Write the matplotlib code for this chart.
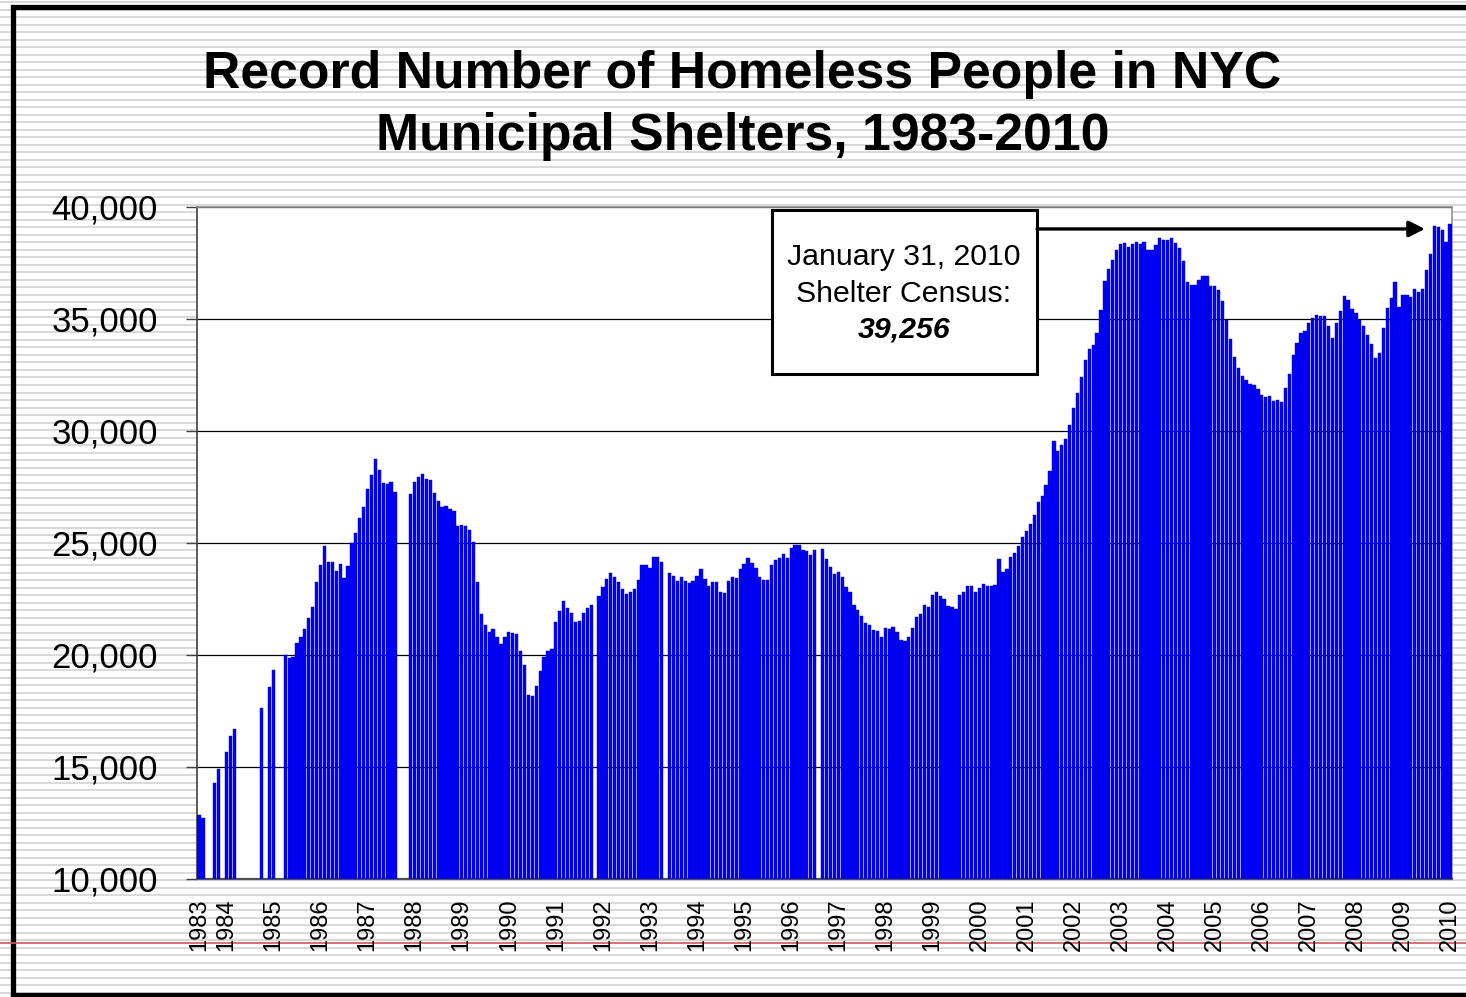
import numpy as np
import matplotlib.pyplot as plt
from matplotlib.patches import Rectangle

nan = np.nan

# monthly shelter census, first bar is June 1983, last is January 2010
census_1983 = [12860, 12740, nan, nan, 14270, 14900, nan]
census_1984 = [15680, 16380, 16700, nan, nan, nan, nan, nan, nan, 17650, nan, 18590]
census_1985 = [19330, nan, nan, 20000, 19850, 19930, 20520, 20820, 21150, 21670, 22130, 23260]
census_1986 = [24020, 24870, 24170, 24170, 23750, 24080, 23440, 23970, 24990, 25430, 26100, 26620]
census_1987 = [27430, 28050, 28750, 28240, 27690, 27630, 27720, 27280, nan, nan, nan, 27190]
census_1988 = [27740, 27930, 28070, 27860, 27810, 27220, 26880, 26620, 26670, 26520, 26430, 25770]
census_1989 = [25800, 25740, 25600, 25030, 23270, 21820, 21350, 21040, 21150, 20820, 20510, 20790]
census_1990 = [21030, 21000, 20940, 20160, 19570, 18230, 18170, 18630, 19300, 19900, 20160, 20270]
census_1991 = [21470, 21960, 22400, 22100, 21860, 21460, 21500, 21860, 22110, 22220, nan, 22620]
census_1992 = [23020, 23410, 23670, 23500, 23260, 22930, 22710, 22800, 22930, 23330, 24000, 24030]
census_1993 = [23900, 24360, 24360, 24140, nan, 23660, 23510, 23300, 23500, 23290, 23200, 23320]
census_1994 = [23540, 23820, 23410, 23080, 23260, 23270, 22810, 22770, 23320, 23480, 23440, 23820]
census_1995 = [24080, 24350, 24110, 23870, 23470, 23330, 23360, 24030, 24260, 24350, 24510, 24350]
census_1996 = [24760, 24900, 24900, 24690, 24630, 24480, 24670, nan, 24720, 24280, 23940, 23630]
census_1997 = [23720, 23480, 23020, 22830, 22230, 21990, 21740, 21430, 21340, 21100, 21060, 20790]
census_1998 = [21210, 21160, 21240, 21010, 20670, 20640, 20820, 21210, 21700, 21850, 22250, 22140]
census_1999 = [22680, 22800, 22650, 22490, 22170, 22140, 22070, 22660, 22810, 23070, 23070, 22830]
census_2000 = [22990, 23170, 23100, 23070, 23140, 24290, 23720, 23850, 24380, 24550, 24870, 25250]
census_2001 = [25550, 25830, 26250, 26850, 27080, 27600, 28200, 29570, 29090, 29360, 29630, 30250]
census_2002 = [31030, 31680, 32410, 33190, 33680, 33820, 34390, 35390, 36680, 37230, 37630, 38100]
census_2003 = [38330, 38380, 38230, 38330, 38440, 38330, 38420, 38070, 38070, 38300, 38620, 38530]
census_2004 = [38510, 38600, 38390, 38170, 37590, 36650, 36530, 36520, 36740, 36900, 36930, 36470]
census_2005 = [36460, 36290, 35800, 34960, 34100, 33320, 32800, 32470, 32270, 32120, 32070, 31880]
census_2006 = [31620, 31500, 31580, 31340, 31400, 31310, 31900, 32560, 33390, 33910, 34360, 34460]
census_2007 = [34810, 35060, 35180, 35130, 35130, 34690, 34170, 34810, 35360, 36030, 35830, 35450]
census_2008 = [35250, 34960, 34670, 34300, 33870, 33260, 33480, 34600, 35490, 35920, 36670, 35540]
census_2009 = [36090, 36070, 36000, 36350, 36190, 36320, 37190, 37890, 39140, 39090, 38990, 38420]
census_2010 = [39256]

years = list(range(1983, 2011))
title_lines = ['Record Number of Homeless People in NYC', 'Municipal Shelters, 1983-2010']
callout = ['January 31, 2010', 'Shelter Census:', '39,256']

all_years = [census_1983, census_1984, census_1985, census_1986, census_1987, census_1988,
             census_1989, census_1990, census_1991, census_1992, census_1993, census_1994,
             census_1995, census_1996, census_1997, census_1998, census_1999, census_2000,
             census_2001, census_2002, census_2003, census_2004, census_2005, census_2006,
             census_2007, census_2008, census_2009, census_2010]
census = np.array([v for yr in all_years for v in yr], dtype=float)
x = np.arange(len(census))

# tick at the first bar of each year block
tick_pos = []
start = 0
for yr in all_years:
    tick_pos.append(start)
    start += len(yr)

plt.rcParams['font.family'] = ['Liberation Sans', 'DejaVu Sans']

W, H = 1466, 997
fig = plt.figure(figsize=(W / 100, H / 100), dpi=100)

# striped slide background, frame and red guide line
bg = fig.add_axes([0, 0, 1, 1], zorder=-10)
bg.set_xlim(0, W)
bg.set_ylim(H, 0)
bg.axis('off')
bg.hlines(np.arange(2.5, H, 7.5), 0, W, color='#d8d8d8', lw=1.4)
bg.plot([12.5, 12.5, W + 5], [995, 7.5, 7.5], color='black', lw=3.8, solid_joinstyle='miter')
bg.plot([12.5, W + 5], [995, 995], color='black', lw=3.8)
bg.plot([0, W], [943, 943], color='#d05858', lw=1.2)

ax = fig.add_axes([197 / W, 1 - 879 / H, 1255 / W, 672 / H])
ax.set_facecolor('white')
ax.bar(x, census, width=0.84, color='#0000ff', edgecolor='#0000b4', linewidth=0.3, zorder=3)
ax.set_xlim(-0.5, len(census) - 0.5)
ax.set_ylim(10000, 40000)

ax.set_yticks(range(10000, 40001, 5000))
ax.set_yticklabels([f'{v:,}' for v in range(10000, 40001, 5000)], fontsize=25)
ax.yaxis.grid(True, color='black', lw=0.9)
ax.set_axisbelow(True)
ax.tick_params(axis='y', direction='out', length=8, width=1, color='#404040', pad=20)

ax.set_xticks(tick_pos)
ax.set_xticklabels([str(y) for y in years], rotation=90, fontsize=17)
ax.tick_params(axis='x', length=0, pad=14)

ax.spines['left'].set_color('#404040')
ax.spines['left'].set_linewidth(1.2)
ax.spines['bottom'].set_color('#505050')
ax.spines['bottom'].set_linewidth(1.6)
for s in ['top', 'right']:
    ax.spines[s].set_color('#909090')
    ax.spines[s].set_linewidth(1.2)

# title
fig.text(0.5065, 1 - 88 / H, title_lines[0], ha='center', va='baseline',
         fontsize=37.3, fontweight='bold')
fig.text(0.5065, 1 - 150 / H, title_lines[1], ha='center', va='baseline',
         fontsize=37.3, fontweight='bold')

# callout box with arrow to the last bars
ax.add_patch(Rectangle((0.458, 0.7515), 0.2112, 0.244, transform=ax.transAxes,
                       facecolor='white', edgecolor='black', lw=2.2, zorder=6, clip_on=False))
ax.text(0.5633, 0.9137, callout[0], transform=ax.transAxes, ha='center', va='baseline',
        fontsize=21.8, zorder=7)
ax.text(0.5633, 0.8591, callout[1], transform=ax.transAxes, ha='center', va='baseline',
        fontsize=21.8, zorder=7)
ax.text(0.5633, 0.8051, callout[2], transform=ax.transAxes, ha='center', va='baseline',
        fontsize=21.8, fontweight='bold', fontstyle='italic', zorder=7)
ax.annotate('', xy=(312.6, 39020), xytext=(213.7, 39020),
            arrowprops=dict(arrowstyle='-|>', color='black', lw=2.4, mutation_scale=24,
                            shrinkA=0, shrinkB=0), zorder=6)

fig.savefig('out.png', dpi=100)
